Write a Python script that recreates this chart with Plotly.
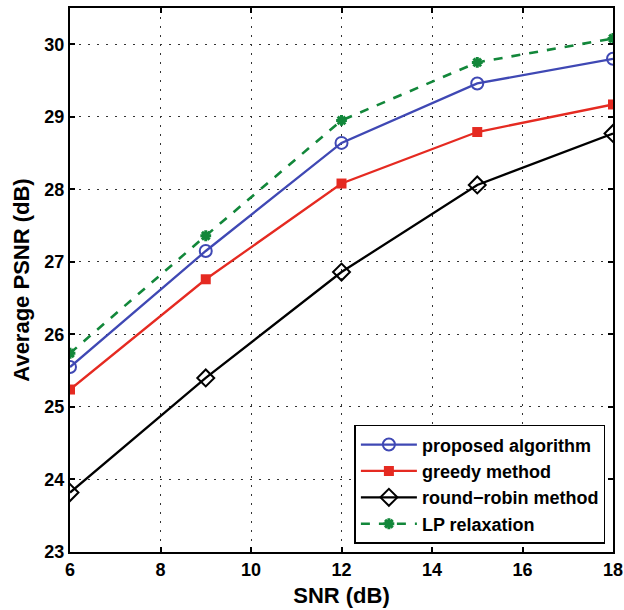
import plotly.graph_objects as go

snr = [6, 9, 12, 15, 18]
proposed = [25.55, 27.15, 28.64, 29.46, 29.80]
greedy = [25.24, 26.76, 28.08, 28.79, 29.17]
round_robin = [23.82, 25.40, 26.86, 28.06, 28.77]
lp_relax = [25.74, 27.36, 28.95, 29.75, 30.08]

x_ticks = [6, 8, 10, 12, 14, 16, 18]
y_ticks = [23, 24, 25, 26, 27, 28, 29, 30]

FONT = "Arial, Liberation Sans, sans-serif"

fig = go.Figure()
fig.add_trace(go.Scatter(x=snr, y=proposed, name="proposed algorithm", mode="lines+markers",
                         line=dict(color="#3F48B4", width=2.3),
                         marker=dict(symbol="circle-open", size=12, line=dict(width=2, color="#3F48B4"))))
fig.add_trace(go.Scatter(x=snr, y=greedy, name="greedy method", mode="lines+markers",
                         line=dict(color="#E52A21", width=2.3),
                         marker=dict(symbol="square", size=10, color="#E52A21")))
fig.add_trace(go.Scatter(x=snr, y=round_robin, name="round\u2212robin method", mode="lines+markers",
                         line=dict(color="black", width=2.3),
                         marker=dict(symbol="diamond-open", size=13, line=dict(width=2, color="black"))))
fig.add_trace(go.Scatter(x=snr, y=lp_relax, name="LP relaxation", mode="lines+markers",
                         line=dict(color="#12873A", width=2.6, dash="dash"),
                         marker=dict(symbol="asterisk-open", size=9, line=dict(width=3, color="#12873A"))))

axis_common = dict(showline=True, linecolor="black", linewidth=2, mirror="ticks",
                   ticks="inside", ticklen=5, tickwidth=1.5, tickcolor="black",
                   showgrid=True, gridcolor="#333333", gridwidth=1, griddash="1.5px,7.5px",
                   zeroline=False, automargin=False,
                   tickfont=dict(family=FONT, size=18, color="black", weight="bold"))

fig.update_xaxes(range=[6, 18], tickvals=x_ticks, ticktext=[str(v) for v in x_ticks],
                 title=dict(text="SNR (dB)", font=dict(family=FONT, size=22, color="black", weight="bold"),
                            standoff=9),
                 **axis_common)
fig.update_yaxes(range=[23, 30.5], tickvals=y_ticks, ticktext=[str(v) for v in y_ticks],
                 title=dict(text="Average PSNR (dB)", font=dict(family=FONT, size=22, color="black", weight="bold"),
                            standoff=9),
                 **axis_common)

fig.update_layout(
    width=624, height=610,
    margin=dict(l=70, r=11, t=8, b=58, autoexpand=False),
    paper_bgcolor="white", plot_bgcolor="white",
    showlegend=True,
    legend=dict(x=0.986, y=0.015, xanchor="right", yanchor="bottom",
                bgcolor="white", bordercolor="black", borderwidth=1.5,
                font=dict(family=FONT, size=18, color="black", weight="bold"),
                itemwidth=56, tracegroupgap=0),
)

fig.write_html("out.html", config={"displayModeBar": False},
               post_script="document.body.style.margin='0';document.body.style.padding='0';")
